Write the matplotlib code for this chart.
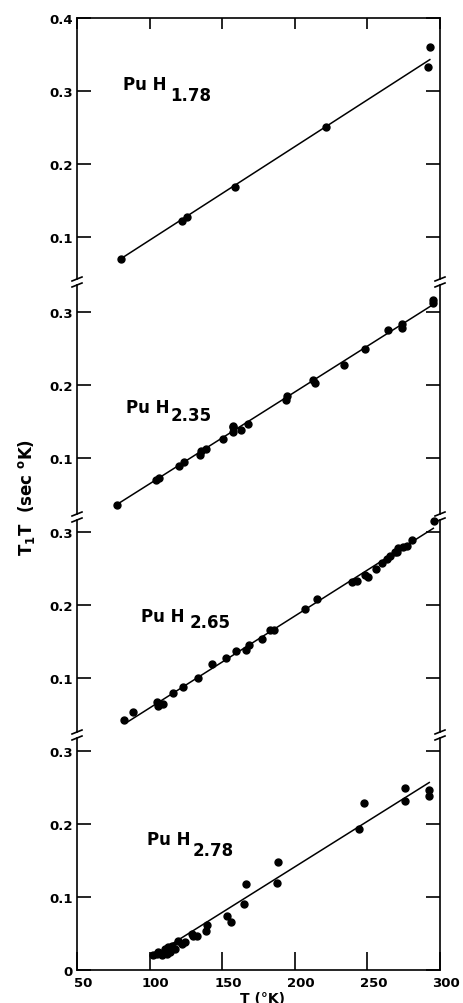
import numpy as np
import matplotlib
matplotlib.use('Agg')
import matplotlib.pyplot as plt
import matplotlib.transforms as mtransforms
from matplotlib.lines import Line2D

plt.rcParams['font.family'] = ['DejaVu Sans']
plt.rcParams['font.weight'] = 'bold'
plt.rcParams['mathtext.fontset'] = 'dejavusans'

# PuH1.78
t_178 = [80.3, 122.3, 125.8, 158.8, 221.5, 291.7, 293.0]
r_178 = [0.070, 0.122, 0.127, 0.168, 0.251, 0.333, 0.360]
fit_t_178 = [80.0, 293.0]
fit_r_178 = [0.070, 0.343]

# PuH2.35
t_235 = [77.5, 104.4, 106.5, 120.2, 123.9, 134.7, 135.4, 138.6, 150.8, 157.6, 157.6, 157.6, 162.7,
         168.0, 193.7, 194.8, 212.7, 213.9, 233.9, 248.6, 264.4, 274.0, 274.0, 295.4, 295.4]
r_235 = [0.036, 0.070, 0.072, 0.089, 0.094, 0.104, 0.110, 0.113, 0.126, 0.135, 0.142, 0.144, 0.138,
         0.147, 0.180, 0.185, 0.2075, 0.203, 0.228, 0.249, 0.275, 0.278, 0.284, 0.313, 0.316]
fit_t_235 = [79.6, 294.3]
fit_r_235 = [0.039, 0.309]

# PuH2.65
t_265 = [82.4, 88.8, 104.9, 107.2, 109.4, 106.0, 116.3, 123.2, 133.1, 142.8, 152.6, 159.5, 166.2,
         168.7, 177.6, 182.9, 185.9, 207.0, 215.1, 239.6, 242.6, 248.3, 250.2, 255.9, 259.8, 263.3,
         265.6, 269.0, 270.2, 271.1, 274.5, 277.1, 280.9, 296.1]
r_265 = [0.043, 0.054, 0.067, 0.065, 0.064, 0.062, 0.080, 0.088, 0.100, 0.119, 0.127, 0.137, 0.139,
         0.145, 0.153, 0.166, 0.166, 0.195, 0.208, 0.231, 0.233, 0.241, 0.238, 0.249, 0.258, 0.263,
         0.267, 0.272, 0.272, 0.278, 0.279, 0.281, 0.289, 0.315]
fit_t_265 = [84.2, 295.4]
fit_r_265 = [0.039, 0.305]

# PuH2.78
t_278 = [102.1, 104.9, 106.0, 108.3, 110.6, 111.8, 112.9, 114.0, 115.2, 117.5, 119.8, 122.1, 124.4,
         129.0, 130.1, 132.8, 138.8, 139.3, 153.1, 156.1, 165.2, 166.2, 188.0, 188.3, 244.4, 247.7,
         275.9, 275.9, 292.4, 292.4]
r_278 = [0.020, 0.022, 0.024, 0.020, 0.029, 0.022, 0.031, 0.025, 0.033, 0.029, 0.040, 0.036, 0.038,
         0.050, 0.047, 0.046, 0.053, 0.061, 0.074, 0.066, 0.090, 0.118, 0.119, 0.148, 0.193, 0.229,
         0.232, 0.250, 0.238, 0.247]
fit_t_278 = [102.0, 292.6]
fit_r_278 = [0.019, 0.257]

xticks = [50, 100, 150, 200, 250, 300]
subs = ['1.78', '2.35', '2.65', '2.78']

W, H = 464, 1004
fig = plt.figure(figsize=(4.64, 10.04), dpi=100)

LEFT, RIGHT = 77, 440
tops = [19, 286, 521, 739]
bots = [280, 515, 733, 971]
ylims = [(0.0425, 0.4), (0.0233, 0.337), (0.026, 0.3164), (0.0, 0.318)]
yticks = [[0.1, 0.2, 0.3, 0.4], [0.1, 0.2, 0.3], [0.1, 0.2, 0.3], [0, 0.1, 0.2, 0.3]]
data = [(t_178, r_178, fit_t_178, fit_r_178), (t_235, r_235, fit_t_235, fit_r_235),
        (t_265, r_265, fit_t_265, fit_r_265), (t_278, r_278, fit_t_278, fit_r_278)]


def fx(px):
    return px / W


def fy(py):
    return 1 - py / H


for i in range(4):
    ax = fig.add_axes([fx(LEFT), fy(bots[i]), (RIGHT - LEFT) / W, (bots[i] - tops[i]) / H])
    t, r, ft, fr = data[i]
    ax.plot(ft, fr, '-', color='black', lw=1.1)
    ax.plot(t, r, 'o', color='black', ms=5, clip_on=False)
    ax.set_xlim(50, 300)
    ax.set_ylim(*ylims[i])
    ax.set_xticks(xticks)
    ax.set_yticks(yticks[i])
    ax.set_yticklabels(['0' if v == 0 else '%.1f' % v for v in yticks[i]])
    for s in ax.spines.values():
        s.set_linewidth(1.2)
    ax.spines['top'].set_visible(i == 0)
    ax.spines['bottom'].set_visible(i == 3)
    ax.tick_params(axis='y', direction='in', length=10, width=1.2, left=True, right=True,
                   labelsize=9.5, pad=3)
    ax.tick_params(axis='x', direction='in', width=1.2, top=(i == 0), bottom=(i == 3),
                   labeltop=False, labelbottom=(i == 3), length=(8 if i == 0 else 13),
                   labelsize=9.5, pad=4)
    if i == 3:
        # scanned original: bottom labels sit a little to the right
        shift = mtransforms.ScaledTranslation(6 / 100, 0, fig.dpi_scale_trans)
        for lab in ax.get_xticklabels():
            lab.set_transform(lab.get_transform() + shift)

# break marks on both side lines
for k in range(3):
    for px in (LEFT, RIGHT):
        for py in (bots[k], tops[k + 1]):
            fig.add_artist(Line2D([fx(px - 5), fx(px + 5)], [fy(py + 2), fy(py - 2)],
                                  color='black', lw=1.2))

# compound labels
pu_pos = [(123, 90), (126, 413), (141, 622), (147, 845)]
sub_pos = [(170, 101), (171, 421), (190, 628), (193, 856)]
for i in range(4):
    fig.text(fx(pu_pos[i][0]), fy(pu_pos[i][1]), 'Pu H', fontsize=12, fontweight='bold',
             va='baseline', ha='left')
    fig.text(fx(sub_pos[i][0]), fy(sub_pos[i][1]), subs[i], fontsize=12, fontweight='bold',
             va='baseline', ha='left')

fig.text(fx(27), fy(497), r'$\mathbf{T_{1}T\ \ (sec\ ^{o}K)}$', rotation=90,
         ha='center', va='center', fontsize=12)
fig.text(fx(263), fy(999), 'T (°K)', ha='center', va='center', fontsize=10, fontweight='bold')

fig.savefig('out.png', dpi=100)
